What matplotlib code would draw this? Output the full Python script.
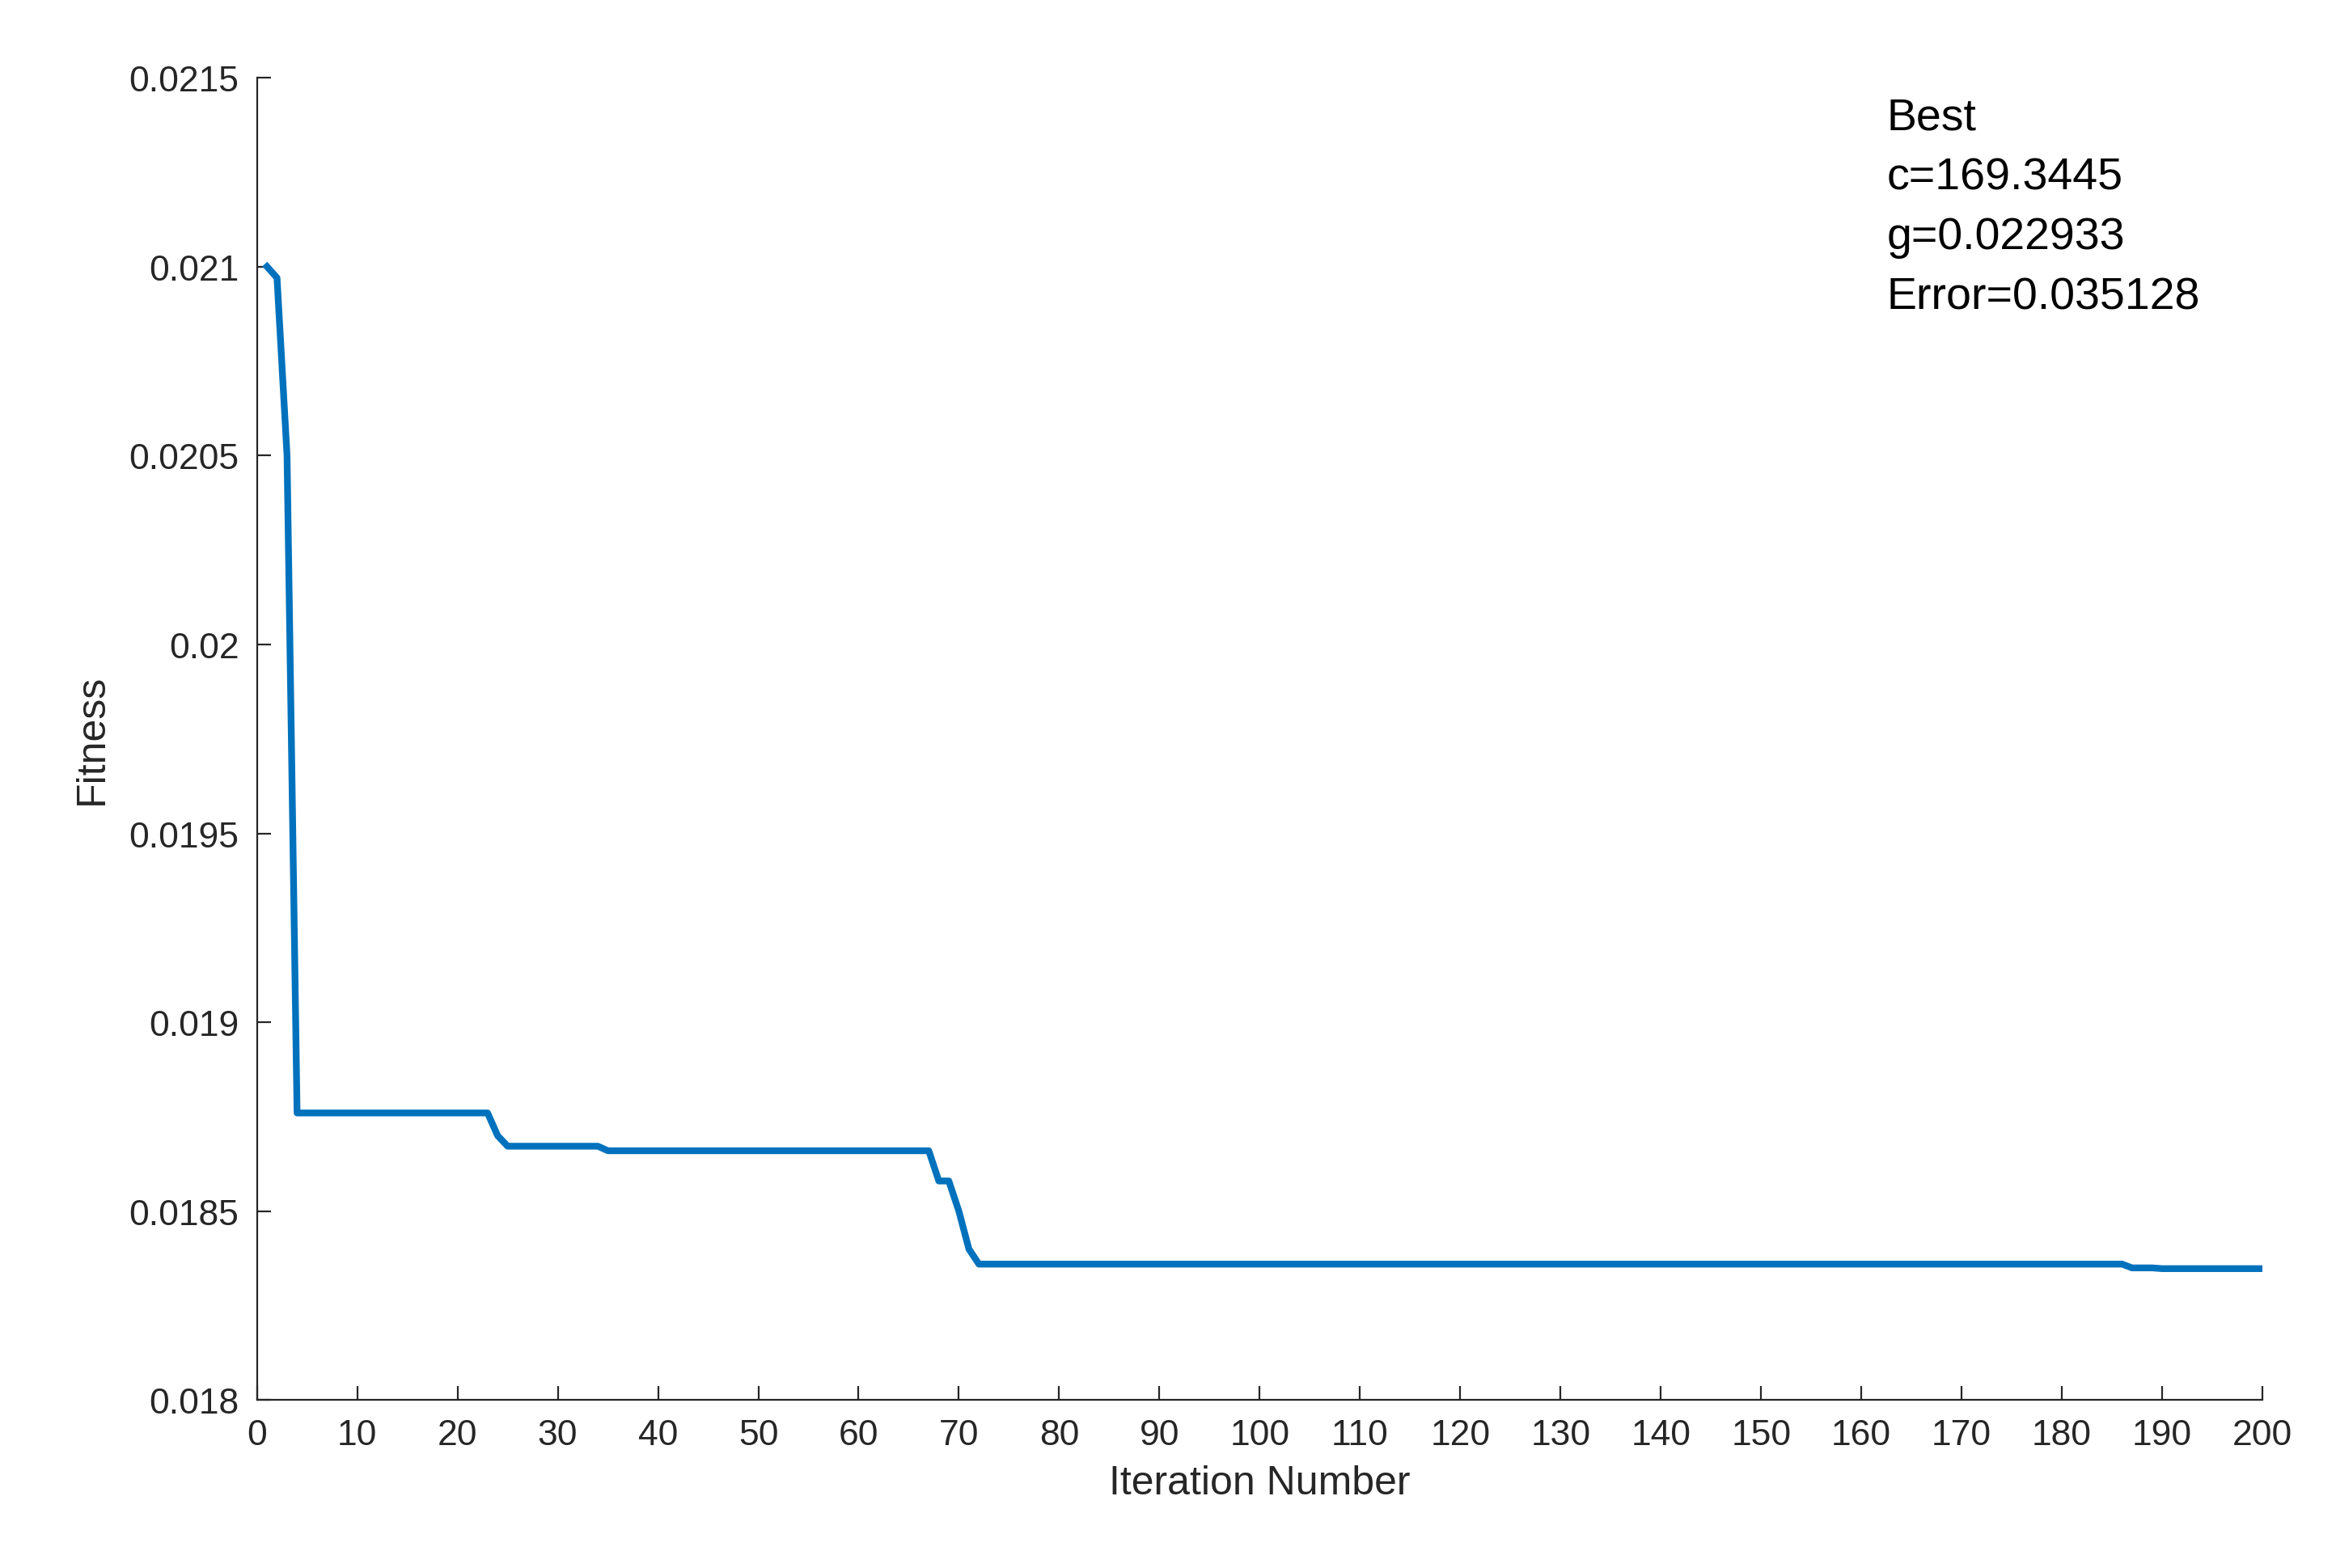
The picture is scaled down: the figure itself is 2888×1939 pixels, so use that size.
import matplotlib.pyplot as plt

# fitness per iteration, stored as (value, number of iterations) runs
fitness_runs = [
    (0.02100, 1), (0.02097, 1), (0.02050, 1), (0.01876, 20),
    (0.01870, 1), (0.018672, 10), (0.01866, 33),
    (0.01858, 2), (0.01850, 1), (0.01840, 1), (0.01836, 115),
    (0.018350, 3), (0.018348, 11),
]
fitness = [v for v, n in fitness_runs for _ in range(n)]
iterations = list(range(1, len(fitness) + 1))

best_text = ["Best", "c=169.3445", "g=0.022933", "Error=0.035128"]

plt.rcParams['font.family'] = ['Liberation Sans', 'DejaVu Sans']
fig = plt.figure(figsize=(14.44, 9.7), dpi=200)
ax = fig.add_axes([0.110, 0.107, 0.8585, 0.843])
ax.plot(iterations, fitness, color='#0072BD', linewidth=3)
ax.set_xlim(0, 200)
ax.set_ylim(0.018, 0.0215)
ax.set_xticks(range(0, 201, 10))
ax.set_yticks([0.018, 0.0185, 0.019, 0.0195, 0.02, 0.0205, 0.021, 0.0215])
ax.set_yticklabels(['0.018', '0.0185', '0.019', '0.0195', '0.02', '0.0205', '0.021', '0.0215'])
ax.tick_params(direction='in', labelsize=16, length=6, pad=8, color='#262626', labelcolor='#262626')
ax.spines['top'].set_visible(False)
ax.spines['right'].set_visible(False)
for s in ['left', 'bottom']:
    ax.spines[s].set_color('#262626')
ax.set_xlabel('Iteration Number', fontsize=18, color='#262626', labelpad=6)
ax.set_ylabel('Fitness', fontsize=18, color='#262626', labelpad=8)
ax.text(162.5, 0.02145, "\n".join(best_text), fontsize=20, va='top', linespacing=1.55)
fig.savefig('out.png', dpi=200)
